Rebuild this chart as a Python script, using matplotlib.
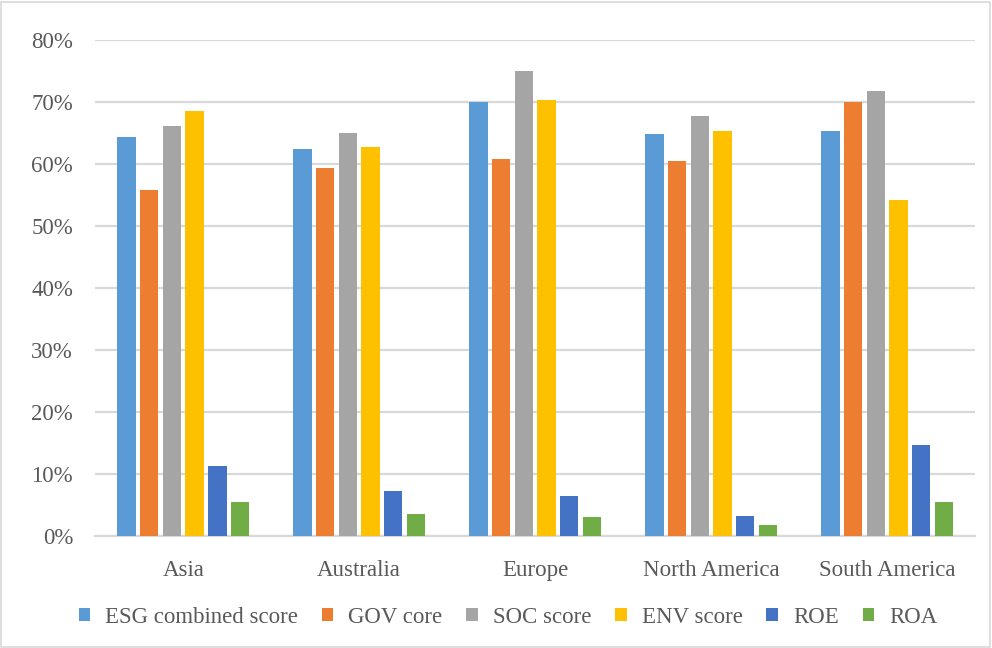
import numpy as np
import matplotlib
matplotlib.use("Agg")
import matplotlib.pyplot as plt
from matplotlib.ticker import PercentFormatter
from matplotlib.patches import Rectangle

regions = ["Asia", "Australia", "Europe", "North America", "South America"]
series = ["ESG combined score", "GOV core", "SOC score", "ENV score", "ROE", "ROA"]
colors = ["#5b9bd5", "#ed7d31", "#a5a5a5", "#ffc000", "#4472c4", "#70ad47"]

esg = [64.3, 62.5, 70.1, 64.8, 65.3]
gov = [55.8, 59.3, 60.9, 60.5, 70.0]
soc = [66.1, 65.0, 75.1, 67.7, 71.8]
env = [68.5, 62.7, 70.4, 65.4, 54.2]
roe = [11.3, 7.2, 6.5, 3.2, 14.7]
roa = [5.4, 3.6, 3.0, 1.7, 5.4]
values = [esg, gov, soc, env, roe, roa]

plt.rcParams['font.family'] = ['Liberation Serif', 'DejaVu Serif']
text_col = "#595959"
grid_col = "#d9d9d9"

fig = plt.figure(figsize=(9.92, 6.48), dpi=100)
ax = fig.add_axes([0.096, 0.173, 0.887, 0.765])

x = np.arange(len(regions))
slot = 0.129
width = 0.105
for i, (name, vals) in enumerate(zip(series, values)):
    offs = (i - 2.5) * slot
    ax.bar(x + offs, vals, width, color=colors[i], label=name, zorder=3)

ax.set_xlim(-0.5, len(regions) - 0.5)
ax.set_ylim(0, 80)
ax.set_yticks(np.arange(0, 81, 10))
ax.yaxis.set_major_formatter(PercentFormatter(decimals=0))
ax.set_xticks(x)
ax.set_xticklabels(regions)
ax.tick_params(axis='both', length=0, labelsize=16.5, colors=text_col)
ax.tick_params(axis='y', pad=16)
ax.tick_params(axis='x', pad=17)
ax.grid(axis='y', color=grid_col, linewidth=1.6, zorder=0)
for s in ['top', 'right', 'left']:
    ax.spines[s].set_visible(False)
ax.spines['bottom'].set_color(grid_col)
ax.spines['bottom'].set_linewidth(1.6)

leg = fig.legend(loc='center', bbox_to_anchor=(0.512, 0.047), ncol=6, frameon=False,
                 fontsize=16.5, handlelength=0.5, handleheight=0.5, handletextpad=0.65,
                 columnspacing=1.05)
for t in leg.get_texts():
    t.set_color(text_col)

fig.patches.append(Rectangle((0.001, 0.002), 0.997, 0.995, transform=fig.transFigure,
                             fill=False, edgecolor="#d9d9d9", linewidth=1.2))

fig.savefig("out.png", dpi=100)
